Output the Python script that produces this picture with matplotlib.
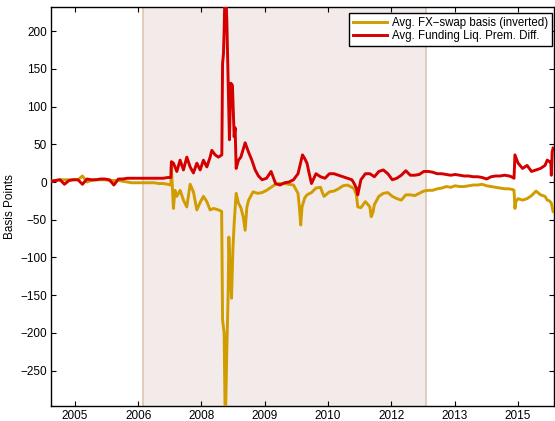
import matplotlib
matplotlib.use("Agg")
import matplotlib.pyplot as plt
import numpy as np

plt.rcParams['font.family'] = ['Liberation Sans', 'DejaVu Sans']

# data (x in decimal years, y in basis points)
fx_dates = [2004.80, 2004.90, 2005.00, 2005.10, 2005.20, 2005.30, 2005.40, 2005.50, 2005.60, 2005.70,
            2005.80, 2005.90, 2006.00, 2006.10, 2006.20, 2006.30, 2006.40, 2006.50, 2006.60, 2006.70,
            2006.80, 2006.90, 2007.00, 2007.10, 2007.20, 2007.30, 2007.40, 2007.46, 2007.47, 2007.48,
            2007.50, 2007.526, 2007.56, 2007.602, 2007.675, 2007.749, 2007.824, 2007.898, 2007.971, 2008.047,
            2008.121, 2008.194, 2008.270, 2008.343, 2008.42, 2008.53, 2008.60, 2008.62, 2008.655, 2008.675,
            2008.69, 2008.715, 2008.744, 2008.76, 2008.78, 2008.82, 2008.85, 2008.878, 2008.923, 2008.974,
            2009.027, 2009.08, 2009.123, 2009.16, 2009.20, 2009.30, 2009.40, 2009.50, 2009.60, 2009.70,
            2009.80, 2009.90, 2010.00, 2010.10, 2010.20, 2010.30, 2010.33, 2010.36, 2010.39, 2010.45,
            2010.50, 2010.60, 2010.70, 2010.80, 2010.85, 2010.88, 2010.90, 2011.00, 2011.10, 2011.20,
            2011.30, 2011.40, 2011.50, 2011.55, 2011.60, 2011.63, 2011.70, 2011.80, 2011.90, 2011.93,
            2011.97, 2012.00, 2012.10, 2012.20, 2012.30, 2012.40, 2012.50, 2012.60, 2012.70, 2012.80,
            2012.90, 2013.00, 2013.10, 2013.20, 2013.30, 2013.40, 2013.50, 2013.60, 2013.70, 2013.80,
            2013.90, 2014.00, 2014.10, 2014.20, 2014.30, 2014.40, 2014.50, 2014.60, 2014.70, 2014.80,
            2014.90, 2015.00, 2015.08, 2015.11, 2015.13, 2015.15, 2015.20, 2015.30, 2015.40, 2015.50,
            2015.60, 2015.70, 2015.80, 2015.85, 2015.90, 2015.94, 2015.98]
fx_basis = [1, 2, 3, 3, 3, 3, 3, 8, 0, 2,
            3, 3, 3, 2, 2, 2, 1, 0, -1, -1,
            -1, -1, -1, -1, -2, -2, -3, -4, -3, 20,
            -5, -35, -11, -19, -11, -24, -33, -3, -13, -37,
            -27, -19, -26, -37, -35, -37, -39, -183, -200, -300,
            -300, -222, -150, -73, -103, -154, -90, -55, -15, -28,
            -34, -46, -64, -34, -24, -13, -15, -14, -11, -7,
            -3, -2, -2, -3, -4, -15, -33, -57, -33, -21,
            -17, -14, -8, -7, -15, -19, -18, -13, -12, -9,
            -5, -4, -7, -9, -17, -33, -34, -26, -33, -46,
            -40, -30, -19, -15, -14, -19, -22, -24, -17, -17,
            -18, -15, -12, -11, -11, -9, -8, -6, -7, -5,
            -6, -6, -5, -4, -4, -3, -5, -6, -7, -8,
            -9, -9, -10, -11, -35, -26, -22, -24, -22, -18,
            -12, -17, -19, -24, -25, -28, -39]

flp_dates = [2004.80, 2004.90, 2005.00, 2005.10, 2005.20, 2005.30, 2005.40, 2005.50, 2005.60, 2005.70,
             2005.80, 2005.90, 2006.00, 2006.10, 2006.20, 2006.30, 2006.40, 2006.50, 2006.60, 2006.70,
             2006.80, 2006.90, 2007.00, 2007.10, 2007.20, 2007.30, 2007.40, 2007.47, 2007.48, 2007.526,
             2007.602, 2007.675, 2007.749, 2007.824, 2007.898, 2007.971, 2008.047, 2008.121, 2008.194, 2008.270,
             2008.343, 2008.381, 2008.455, 2008.528, 2008.604, 2008.62, 2008.64, 2008.655, 2008.675, 2008.69,
             2008.715, 2008.744, 2008.773, 2008.804, 2008.84, 2008.878, 2008.90, 2008.923, 2008.974, 2009.027,
             2009.123, 2009.196, 2009.272, 2009.346, 2009.419, 2009.50, 2009.60, 2009.70, 2009.80, 2009.90,
             2010.00, 2010.10, 2010.20, 2010.30, 2010.40, 2010.45, 2010.50, 2010.55, 2010.60, 2010.70,
             2010.80, 2010.90, 2011.00, 2011.10, 2011.20, 2011.30, 2011.40, 2011.50, 2011.55, 2011.60,
             2011.63, 2011.70, 2011.80, 2011.90, 2012.00, 2012.10, 2012.20, 2012.30, 2012.40, 2012.50,
             2012.60, 2012.70, 2012.80, 2012.90, 2013.00, 2013.10, 2013.20, 2013.30, 2013.40, 2013.50,
             2013.60, 2013.70, 2013.80, 2013.90, 2014.00, 2014.10, 2014.20, 2014.30, 2014.40, 2014.50,
             2014.60, 2014.70, 2014.80, 2014.90, 2015.00, 2015.05, 2015.11, 2015.13, 2015.20, 2015.30,
             2015.40, 2015.50, 2015.60, 2015.70, 2015.80, 2015.85, 2015.90, 2015.93, 2015.94, 2015.96,
             2015.98]
flp_diff = [1, 2, 3, -3, 2, 3, 3, -3, 4, 3,
            3, 4, 4, 3, -4, 4, 4, 5, 5, 5,
            5, 5, 5, 5, 5, 5, 6, 6, 27, 25,
            14, 29, 16, 33, 20, 12, 25, 16, 29, 20,
            33, 42, 36, 33, 36, 157, 170, 200, 260, 260,
            214, 135, 56, 131, 128, 60, 72, 18, 29, 33,
            52, 40, 29, 16, 8, 3, 5, 14, -2, -4,
            -1, 0, 3, 11, 36, 31, 25, 11, -2, 11,
            7, 5, 11, 11, 9, 7, 5, 3, -2, -8,
            -17, 3, 11, 11, 7, 14, 16, 11, 3, 5,
            9, 15, 9, 9, 10, 14, 14, 13, 11, 11,
            10, 9, 10, 9, 8, 8, 7, 7, 6, 4,
            7, 8, 8, 9, 8, 7, 5, 36, 25, 18,
            22, 14, 16, 18, 22, 29, 27, 26, 9, 40,
            45]

shade_start = 2006.85
shade_end = 2013.15

tick_pos = [2005.33, 2006.74, 2008.15, 2009.56, 2010.97, 2012.38, 2013.79, 2015.20]
tick_labels = ['2005', '2006', '2008', '2009', '2010', '2012', '2013', '2015']
y_ticks = [-250, -200, -150, -100, -50, 0, 50, 100, 150, 200]

fig = plt.figure(figsize=(5.55, 4.21), dpi=100)
ax = fig.add_axes([51/555, 15.3/421, 503/555, 398.7/421])

# shaded period
ax.axvspan(shade_start, shade_end, facecolor='#F3EBEA', edgecolor='none', zorder=0)
ax.axvline(shade_start, color='#DCC6B2', lw=1.2, zorder=1)
ax.axvline(shade_end, color='#DCC6B2', lw=1.2, zorder=1)

ax.plot(fx_dates, fx_basis, color='#D09C00', lw=2.1, label='Avg. FX\u2212swap basis (inverted)', zorder=3)
ax.plot(flp_dates, flp_diff, color='#D40000', lw=2.1, label='Avg. Funding Liq. Prem. Diff.', zorder=4)

ax.set_xlim(2004.80, 2016.0)
ax.set_ylim(-296.5, 232)
ax.set_xticks(tick_pos)
ax.set_xticklabels(tick_labels)
ax.set_yticks(y_ticks)
ax.tick_params(direction='in', length=3.5, width=0.8, top=True, right=True,
               labelsize=8.5, pad=3, colors='black')
for s in ax.spines.values():
    s.set_linewidth(1.0)
    s.set_color('black')
ax.set_ylabel('Basis Points', fontsize=8.5, labelpad=3)

leg = ax.legend(loc='upper right', bbox_to_anchor=(0.9954, 0.9857), borderaxespad=0,
                fontsize=8.3, handlelength=3.0, handletextpad=0.35, labelspacing=0.1,
                borderpad=0.35, fancybox=False, framealpha=1, edgecolor='black')
leg.get_frame().set_linewidth(1.0)

fig.savefig('out.png', dpi=100)
